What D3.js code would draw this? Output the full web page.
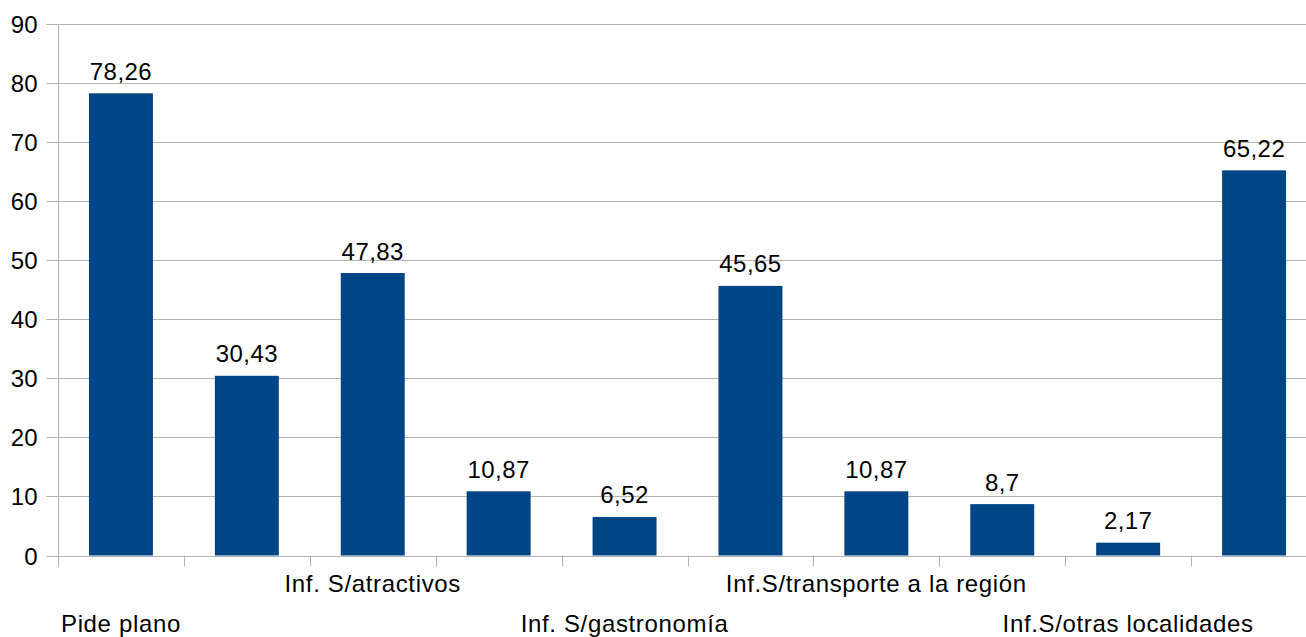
<!DOCTYPE html>
<html>
<head>
<meta charset="utf-8">
<script src="https://cdn.jsdelivr.net/npm/d3@7"></script>
<style>
  html, body { margin: 0; padding: 0; background: #fff; }
  svg { display: block; font-family: "Liberation Sans", Arial, sans-serif; }
</style>
</head>
<body>
<svg id="chart" width="1306" height="637"></svg>
<script>
// Category labels (only every second label is shown in the reference; the others are hidden there)
const categories = ["Pide plano", "", "Inf. S/atractivos", "", "Inf. S/gastronomía", "", "Inf.S/transporte a la región", "", "Inf.S/otras localidades", ""];
const values = [78.26, 30.43, 47.83, 10.87, 6.52, 45.65, 10.87, 8.7, 2.17, 65.22];
const valueLabels = ["78,26", "30,43", "47,83", "10,87", "6,52", "45,65", "10,87", "8,7", "2,17", "65,22"];
const yTicks = [0, 10, 20, 30, 40, 50, 60, 70, 80, 90];

(function () {
const svg = d3.select("#chart");
const plotLeft = 58, plotRight = 1317, plotTop = 24, plotBottom = 555.5;
const gridColor = "#b3b3b3";
const barColor = "#004586";

const x = d3.scaleBand().domain(d3.range(values.length)).range([plotLeft, plotRight])
  .paddingInner(0.492).paddingOuter(0.246);
const y = d3.scaleLinear().domain([0, 90]).range([plotBottom, plotTop]);

// gridlines + y tick marks
svg.append("g").selectAll("line").data(yTicks).join("line")
  .attr("x1", plotLeft - 11.5).attr("x2", 1306)
  .attr("y1", d => Math.round(y(d)) + 0.5).attr("y2", d => Math.round(y(d)) + 0.5)
  .attr("stroke", gridColor).attr("stroke-width", 1);

// y axis line
svg.append("line").attr("x1", plotLeft + 0.5).attr("x2", plotLeft + 0.5)
  .attr("y1", Math.round(y(90)) + 0.5).attr("y2", plotBottom + 11)
  .attr("stroke", gridColor);

// x category tick marks
const tickPos = d3.range(values.length + 1).map(i => plotLeft + i * x.step());
svg.append("g").selectAll("line").data(tickPos).join("line")
  .attr("x1", d => Math.round(d) + 0.5).attr("x2", d => Math.round(d) + 0.5)
  .attr("y1", plotBottom).attr("y2", plotBottom + 11)
  .attr("stroke", gridColor);

// y tick labels
svg.append("g").selectAll("text").data(yTicks).join("text")
  .attr("x", 37.5).attr("y", d => y(d) + 9)
  .attr("text-anchor", "end").attr("font-size", 24).attr("fill", "#000")
  .text(d => d);

// bars
svg.append("g").selectAll("rect").data(values).join("rect")
  .attr("x", (d, i) => x(i)).attr("width", x.bandwidth())
  .attr("y", d => y(d)).attr("height", d => y(0) - y(d))
  .attr("fill", barColor);

// value labels
svg.append("g").selectAll("text").data(values).join("text")
  .attr("x", (d, i) => x(i) + x.bandwidth() / 2)
  .attr("y", d => y(d) - 13.5)
  .attr("text-anchor", "middle").attr("font-size", 24).attr("fill", "#000")
  .attr("letter-spacing", 0.45)
  .text((d, i) => valueLabels[i]);

// category labels (staggered)
svg.append("g").selectAll("text").data(categories).join("text")
  .attr("x", (d, i) => x(i) + x.bandwidth() / 2)
  .attr("y", (d, i) => (Math.floor(i / 2) % 2 === 0) ? 632 : 592)
  .attr("text-anchor", "middle").attr("font-size", 24).attr("fill", "#000")
  .attr("letter-spacing", 0.65)
  .text(d => d);
})();
</script>
</body>
</html>
